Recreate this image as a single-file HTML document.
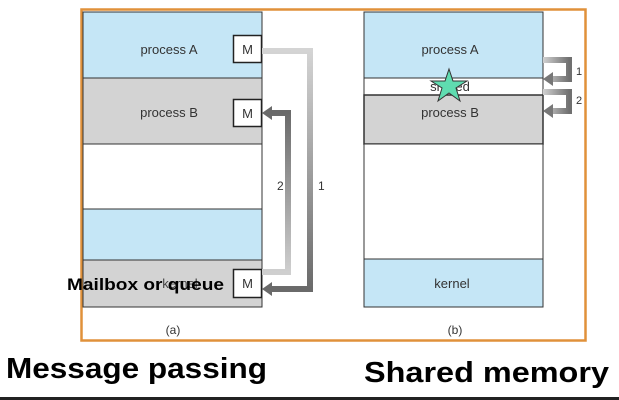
<!DOCTYPE html>
<html><head><meta charset="utf-8"><style>
body{margin:0;background:#fff;}
svg{display:block;font-family:"Liberation Sans",sans-serif;}
</style></head><body>
<svg width="619" height="400" viewBox="0 0 619 400">
<defs>
<linearGradient id="g1" x1="0" y1="0" x2="0" y2="1"><stop offset="0" stop-color="#d4d4d4"/><stop offset="1" stop-color="#6a6a6a"/></linearGradient>
<linearGradient id="g2" x1="0" y1="1" x2="0" y2="0"><stop offset="0" stop-color="#cfcfcf"/><stop offset="1" stop-color="#6a6a6a"/></linearGradient>
<linearGradient id="g3" x1="0" y1="0" x2="1" y2="0"><stop offset="0" stop-color="#d0d0d0"/><stop offset="1" stop-color="#707070"/></linearGradient>
</defs>
<rect x="81.5" y="9.5" width="504" height="331" fill="#fff" stroke="#e0913a" stroke-width="2.5"/>
<g stroke="#333" stroke-width="1">
<rect x="83" y="12" width="179" height="66" fill="#c5e6f6"/>
<rect x="83" y="78" width="179" height="66" fill="#d3d3d3"/>
<rect x="83" y="144" width="179" height="65" fill="#fff"/>
<rect x="83" y="209" width="179" height="51" fill="#c5e6f6"/>
<rect x="83" y="260" width="179" height="47" fill="#d3d3d3"/>
</g>
<text x="169" y="54" font-size="13" fill="#333" text-anchor="middle">process A</text>
<text x="169" y="117" font-size="13" fill="#333" text-anchor="middle">process B</text>
<text x="180" y="288" font-size="13" fill="#444" text-anchor="middle">kernel</text>
<text x="67" y="290" font-size="17" font-weight="bold" fill="#000" textLength="157" lengthAdjust="spacingAndGlyphs">Mailbox or queue</text>
<g fill="#fff" stroke="#222" stroke-width="1.5">
<rect x="233.5" y="35.5" width="28" height="27"/>
<rect x="233.5" y="99.5" width="28" height="27"/>
<rect x="233.5" y="269.5" width="28" height="28"/>
</g>
<g font-size="13" fill="#333" text-anchor="middle">
<text x="247.5" y="54">M</text><text x="247.5" y="118">M</text><text x="247.5" y="288">M</text>
</g>
<path d="M262 51 H310 V289 H270" fill="none" stroke="url(#g1)" stroke-width="6"/>
<polygon points="262,289 272,282 272,296" fill="#6a6a6a"/>
<path d="M262 272 H288 V113 H270" fill="none" stroke="url(#g2)" stroke-width="6"/>
<polygon points="262,113 272,106 272,120" fill="#6a6a6a"/>
<text x="277" y="190" font-size="12" fill="#333">2</text>
<text x="318" y="190" font-size="12" fill="#333">1</text>
<text x="173" y="334" font-size="12" fill="#333" text-anchor="middle">(a)</text>

<g stroke="#333" stroke-width="1">
<rect x="364" y="12" width="179" height="66" fill="#c5e6f6"/>
<rect x="364" y="78" width="179" height="17" fill="#fff"/>
<rect x="364" y="95" width="179" height="49" fill="#d3d3d3" stroke-width="1.5"/>
<rect x="364" y="144" width="179" height="115" fill="#fff"/>
<rect x="364" y="259" width="179" height="48" fill="#c5e6f6"/>
</g>
<text x="450" y="54" font-size="13" fill="#333" text-anchor="middle">process A</text>
<text x="450" y="91" font-size="13" fill="#333" text-anchor="middle">shared</text>
<text x="450" y="117" font-size="13" fill="#333" text-anchor="middle">process B</text>
<text x="452" y="288" font-size="13" fill="#333" text-anchor="middle">kernel</text>
<polygon points="449,69 453,81 467,81 456,88 460,101 449,93 438,101 442,88 431,81 445,81" fill="#5fdcb0" stroke="#333" stroke-width="1"/>
<path d="M543 60 H569 V79 H552" fill="none" stroke="url(#g3)" stroke-width="6"/>
<polygon points="543,79 553,72 553,86" fill="#777"/>
<path d="M543 92 H569 V111 H552" fill="none" stroke="url(#g3)" stroke-width="6"/>
<polygon points="543,111 553,104 553,118" fill="#777"/>
<text x="576" y="75" font-size="11" fill="#333">1</text>
<text x="576" y="104" font-size="11" fill="#333">2</text>
<text x="455" y="334" font-size="12" fill="#333" text-anchor="middle">(b)</text>

<text x="6" y="378" font-size="29" font-weight="bold" fill="#000" textLength="261" lengthAdjust="spacingAndGlyphs">Message passing</text>
<text x="364" y="382" font-size="29" font-weight="bold" fill="#000" textLength="245" lengthAdjust="spacingAndGlyphs">Shared memory</text>
<rect x="0" y="397" width="619" height="3" fill="#222"/>
</svg>
</body></html>
